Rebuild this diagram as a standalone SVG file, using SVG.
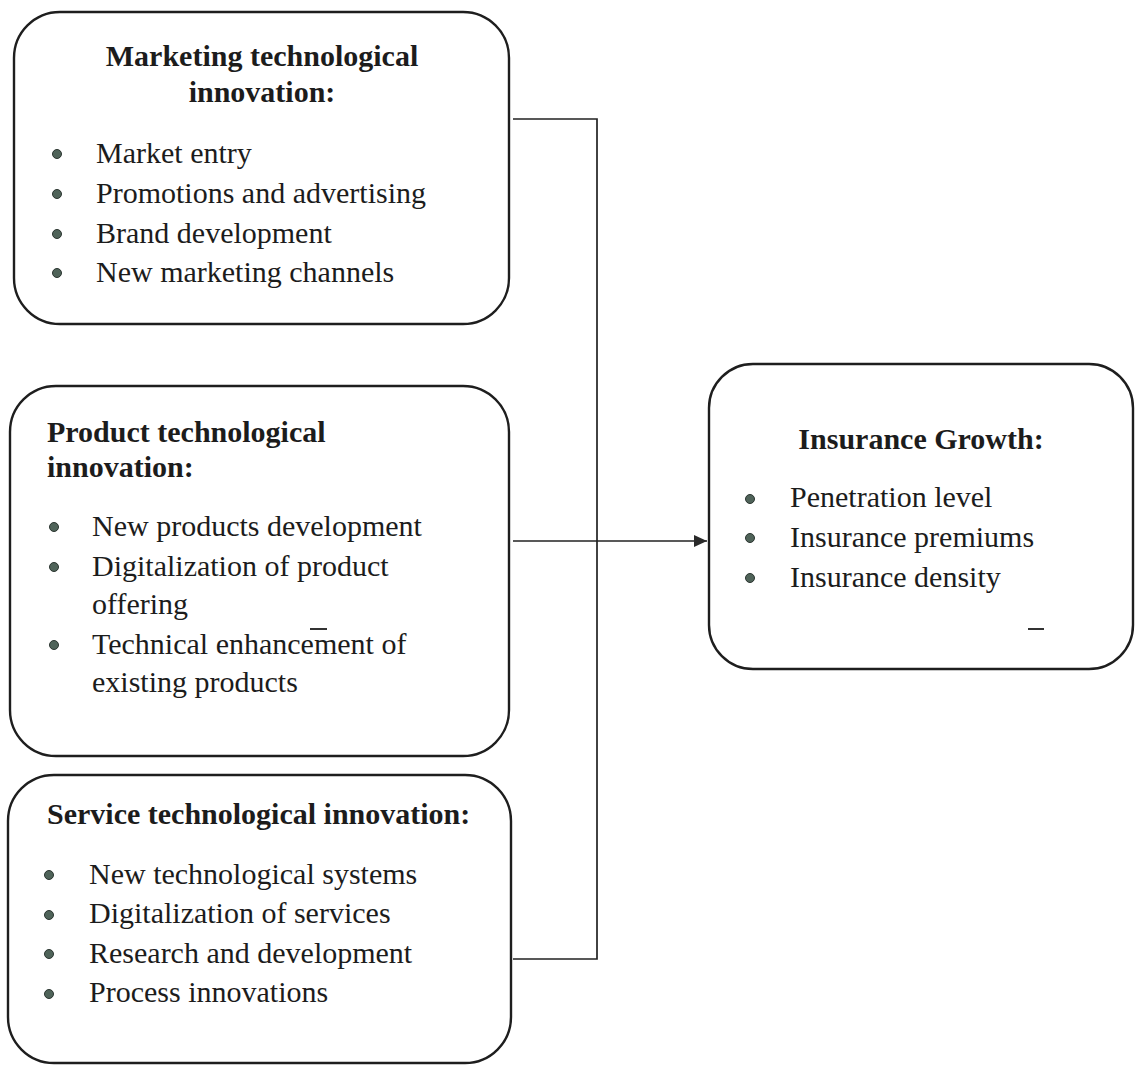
<svg xmlns="http://www.w3.org/2000/svg" width="1135" height="1065" viewBox="0 0 1135 1065">
<defs>
<style>
.box{fill:#fff;stroke:#1e1e1e;stroke-width:2.4}
.t{font-family:"Liberation Serif","Times New Roman",serif;font-size:30px;fill:#1c1c1c}
.b{font-weight:bold}
.dot{fill:#4f6359;stroke:#2b3530;stroke-width:1}
.con{fill:none;stroke:#222;stroke-width:1.7}
.mark{stroke:#333;stroke-width:2}
</style>
<marker id="arr" viewBox="0 0 13 12" refX="13" refY="6" markerWidth="13" markerHeight="12" markerUnits="userSpaceOnUse" orient="auto">
<path d="M0,0 L13,6 L0,12 z" fill="#2a2a2a"/>
</marker>
</defs>
<rect width="1135" height="1065" fill="#fff"/>
<g id="connectors">
<polyline class="con" points="513,119 597,119 597,959 513,959"/>
<line class="con" x1="513" y1="541" x2="707" y2="541" marker-end="url(#arr)"/>
</g>
<g id="marketing">
<rect class="box" x="14" y="12" width="495" height="312" rx="46" ry="46"/>
<text class="t b" x="262" y="66" text-anchor="middle">Marketing technological</text>
<text class="t b" x="262" y="102" text-anchor="middle">innovation:</text>
<circle class="dot" cx="57" cy="154" r="4.5"/>
<circle class="dot" cx="57" cy="194" r="4.5"/>
<circle class="dot" cx="57" cy="234" r="4.5"/>
<circle class="dot" cx="57" cy="273" r="4.5"/>
<text class="t" x="96" y="163">Market entry</text>
<text class="t" x="96" y="203">Promotions and advertising</text>
<text class="t" x="96" y="243">Brand development</text>
<text class="t" x="96" y="282">New marketing channels</text>
</g>
<g id="product">
<rect class="box" x="10" y="386" width="499" height="370" rx="46" ry="46"/>
<text class="t b" x="47" y="442">Product technological</text>
<text class="t b" x="47" y="477">innovation:</text>
<circle class="dot" cx="54" cy="527" r="4.5"/>
<circle class="dot" cx="54" cy="567" r="4.5"/>
<circle class="dot" cx="54" cy="645" r="4.5"/>
<text class="t" x="92" y="536">New products development</text>
<text class="t" x="92" y="576">Digitalization of product</text>
<text class="t" x="92" y="614">offering</text>
<text class="t" x="92" y="654">Technical enhancement of</text>
<text class="t" x="92" y="692">existing products</text>
<line class="mark" x1="310" y1="629" x2="327" y2="629"/>
</g>
<g id="service">
<rect class="box" x="8" y="775" width="503" height="288" rx="46" ry="46"/>
<text class="t b" x="47" y="824">Service technological innovation:</text>
<circle class="dot" cx="49" cy="875" r="4.5"/>
<circle class="dot" cx="49" cy="915" r="4.5"/>
<circle class="dot" cx="49" cy="954" r="4.5"/>
<circle class="dot" cx="49" cy="994" r="4.5"/>
<text class="t" x="89" y="884">New technological systems</text>
<text class="t" x="89" y="923">Digitalization of services</text>
<text class="t" x="89" y="963">Research and development</text>
<text class="t" x="89" y="1002">Process innovations</text>
</g>
<g id="growth">
<rect class="box" x="709" y="364" width="424" height="305" rx="44" ry="44"/>
<text class="t b" x="921" y="449" text-anchor="middle">Insurance Growth:</text>
<circle class="dot" cx="750" cy="499" r="4.5"/>
<circle class="dot" cx="750" cy="538" r="4.5"/>
<circle class="dot" cx="750" cy="578" r="4.5"/>
<text class="t" x="790" y="507">Penetration level</text>
<text class="t" x="790" y="547">Insurance premiums</text>
<text class="t" x="790" y="587">Insurance density</text>
<line class="mark" x1="1028" y1="629" x2="1044" y2="629"/>
</g>
</svg>
